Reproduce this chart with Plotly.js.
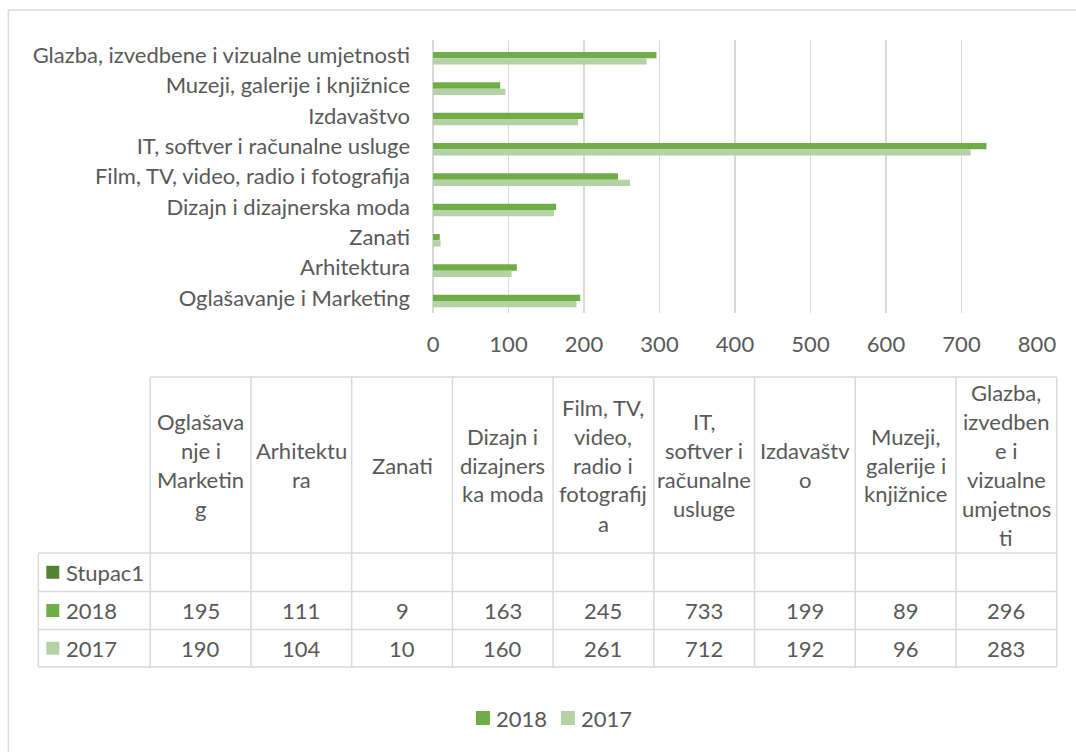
<!DOCTYPE html>
<html>
<head>
<meta charset="utf-8">
<script src="https://cdn.plot.ly/plotly-3.0.1.min.js"></script>
<style>html,body{margin:0;padding:0;background:#fff;}#chart{width:1076px;height:752px;}</style>
</head>
<body>
<div id="chart"></div>
<script>
// ---- data ----
const categories = [
  "Oglašavanje i Marketing",
  "Arhitektura",
  "Zanati",
  "Dizajn i dizajnerska moda",
  "Film, TV, video, radio i fotografija",
  "IT, softver i računalne usluge",
  "Izdavaštvo",
  "Muzeji, galerije i knjižnice",
  "Glazba, izvedbene i vizualne umjetnosti"
];
const values2018 = [195, 111, 9, 163, 245, 733, 199, 89, 296];
const values2017 = [190, 104, 10, 160, 261, 712, 192, 96, 283];
const valuesStupac1 = [null, null, null, null, null, null, null, null, null];
const seriesNames = ["Stupac1", "2018", "2017"];
// wrapped header labels of the data table (as shown in the table)
const tableHeaderLabels = [
  ["Oglašava", "nje i", "Marketin", "g"],
  ["Arhitektu", "ra"],
  ["Zanati"],
  ["Dizajn i", "dizajners", "ka moda"],
  ["Film, TV,", "video,", "radio i", "fotografij", "a"],
  ["IT,", "softver i", "računalne", "usluge"],
  ["Izdavaštv", "o"],
  ["Muzeji,", "galerije i", "knjižnice"],
  ["Glazba,", "izvedben", "e i", "vizualne", "umjetnos", "ti"]
];
const xTicks = [0, 100, 200, 300, 400, 500, 600, 700, 800];

// ---- style ----
const colStupac1 = "#548235", col2018 = "#70ad47", col2017 = "#b4d2a5";
const textCol = "#595959", gridCol = "#d9d9d9";
const FONT = "Lato, 'Open Sans', sans-serif";
const FS = 22;

// plot area in pixels
const W = 1076, H = 752, L = 433, R = 1037.5, T = 40, B = 313;
const px = x => (x - L) / (R - L);
const py = y => (B - y) / (B - T);

const bw = 0.207;
const traces = [
  {type: "bar", orientation: "h", name: seriesNames[0], y: categories, x: valuesStupac1,
   marker: {color: colStupac1}, width: bw, offset: bw / 2, showlegend: false, hoverinfo: "skip"},
  {type: "bar", orientation: "h", name: seriesNames[1], y: categories, x: values2018,
   marker: {color: col2018}, width: bw, offset: -bw / 2, showlegend: false},
  {type: "bar", orientation: "h", name: seriesNames[2], y: categories, x: values2017,
   marker: {color: col2017}, width: bw, offset: -bw / 2 - bw, showlegend: false}
];

const shapes = [];
const annotations = [];
const line = (x0, y0, x1, y1) => shapes.push({type: "line", xref: "paper", yref: "paper",
  x0: px(x0), y0: py(y0), x1: px(x1), y1: py(y1), line: {color: gridCol, width: 1.5}});
const square = (x, cy, size, col) => shapes.push({type: "rect", xref: "paper", yref: "paper",
  x0: px(x), x1: px(x + size), y0: py(cy - size / 2), y1: py(cy + size / 2),
  fillcolor: col, line: {width: 0}});
const txt = (x, y, s, xa) => annotations.push({xref: "paper", yref: "paper", x: px(x), y: py(y),
  text: s, showarrow: false, xanchor: xa || "center", yanchor: "middle",
  font: {family: FONT, size: FS, color: textCol}});

// outer chart border
line(8, 10, 1080, 10);
line(8, 10, 8, 760);

// data table geometry
const tLeft = 38, c0 = 150, cw = 100.8, hTop = 377, hBot = 553;
const rows = [553, 591.5, 629.5, 667];
const nCol = categories.length;
const tRight = c0 + cw * nCol;
line(c0, hTop, tRight, hTop);
rows.forEach(y => line(tLeft, y, tRight, y));
line(tLeft, hBot, tLeft, rows[3]);
for (let i = 0; i <= nCol; i++) line(c0 + cw * i, hTop, c0 + cw * i, rows[3]);

// header cells
const hMid = (hTop + hBot) / 2, lh = 29;
tableHeaderLabels.forEach((lines, i) => {
  const cx = c0 + cw * (i + 0.5);
  lines.forEach((s, j) => txt(cx, hMid + (j - (lines.length - 1) / 2) * lh, s));
});
// row labels + values
const rowSeries = [[seriesNames[0], colStupac1, valuesStupac1],
                   [seriesNames[1], col2018, values2018],
                   [seriesNames[2], col2017, values2017]];
rowSeries.forEach((r, k) => {
  const cy = (rows[k] + rows[k + 1]) / 2;
  square(46, cy, 13, r[1]);
  txt(64, cy, r[0], "left");
  r[2].forEach((v, i) => { if (v !== null) txt(c0 + cw * (i + 0.5), cy, String(v)); });
});

// legend (2018, 2017)
const legY = 718;
square(476, legY, 14, col2018); txt(494, legY, seriesNames[1], "left");
square(561, legY, 14, col2017); txt(579, legY, seriesNames[2], "left");

const layout = {
  width: W, height: H,
  margin: {l: L, r: W - R, t: T, b: H - B, pad: 0},
  paper_bgcolor: "#fff", plot_bgcolor: "#fff",
  barmode: "overlay",
  font: {family: FONT, size: FS, color: textCol},
  xaxis: {range: [0, 800], tickvals: xTicks, showgrid: true, gridcolor: gridCol, gridwidth: 1.5,
    zeroline: true, zerolinecolor: gridCol, zerolinewidth: 1.5, showline: false,
    ticks: "", ticklabelstandoff: 16, tickfont: {family: FONT, size: FS, color: textCol}, fixedrange: true},
  yaxis: {type: "category", categoryorder: "array", categoryarray: categories, range: [-0.5, 8.5],
    showgrid: false, zeroline: false, showline: false, ticks: "", ticklabelstandoff: 22,
    tickfont: {family: FONT, size: FS, color: textCol}, fixedrange: true},
  showlegend: false,
  shapes: shapes,
  annotations: annotations
};

Plotly.newPlot("chart", traces, layout, {displayModeBar: false, staticPlot: true});
</script>
</body>
</html>
